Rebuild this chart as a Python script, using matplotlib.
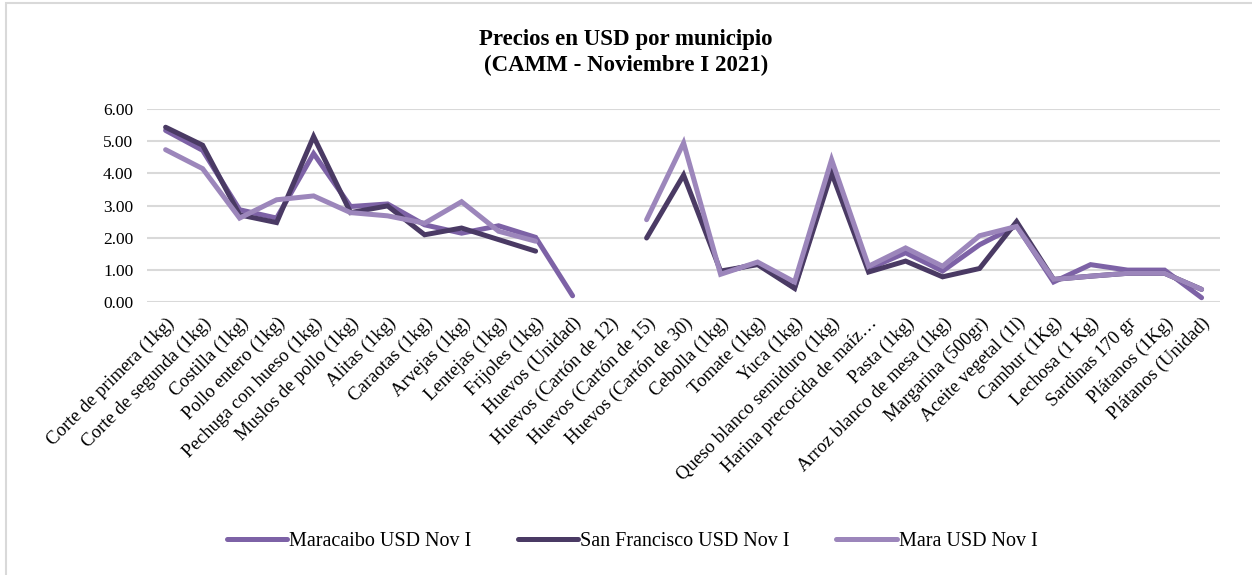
import numpy as np
import matplotlib
matplotlib.use('Agg')
import matplotlib.pyplot as plt
from matplotlib.patches import Rectangle

plt.rcParams['font.family'] = ['Liberation Serif', 'DejaVu Serif']

nan = np.nan

categorias = [
    'Corte de primera (1kg)', 'Corte de segunda (1kg)', 'Costilla (1kg)',
    'Pollo entero (1kg)', 'Pechuga con hueso (1kg)', 'Muslos de pollo (1kg)',
    'Alitas (1kg)', 'Caraotas (1kg)', 'Arvejas (1kg)', 'Lentejas (1kg)',
    'Frijoles (1kg)', 'Huevos (Unidad)', 'Huevos (Cartón de 12)',
    'Huevos (Cartón de 15)', 'Huevos (Cartón de 30)', 'Cebolla (1kg)',
    'Tomate (1kg)', 'Yuca (1kg)', 'Queso blanco semiduro (1kg)',
    'Harina precocida de maíz…', 'Pasta (1kg)', 'Arroz blanco de mesa (1kg)',
    'Margarina (500gr)', 'Aceite vegetal (1l)', 'Cambur (1Kg)',
    'Lechosa (1 Kg)', 'Sardinas 170 gr', 'Plátanos (1Kg)', 'Plátanos (Unidad)',
]

maracaibo = [5.34, 4.72, 2.87, 2.61, 4.62, 2.97, 3.05, 2.40, 2.14, 2.37,
             2.01, 0.19, nan, nan, nan, 0.91, 1.20, 0.44, 4.15, 1.03,
             1.53, 0.96, 1.78, 2.37, 0.62, 1.16, 0.99, 0.99, 0.13]
san_francisco = [5.44, 4.88, 2.71, 2.47, 5.15, 2.78, 2.99, 2.09, 2.30, 1.94,
                 1.58, nan, nan, 1.99, 3.95, 0.96, 1.16, 0.42, 4.02, 0.93,
                 1.27, 0.78, 1.04, 2.50, 0.70, 0.80, 0.89, 0.89, 0.39]
mara = [4.74, 4.15, 2.61, 3.18, 3.30, 2.78, 2.68, 2.45, 3.12, 2.20,
        1.89, nan, nan, 2.56, 4.95, 0.86, 1.24, 0.62, 4.43, 1.11,
        1.68, 1.11, 2.06, 2.35, 0.70, 0.80, 0.89, 0.89, 0.39]

series = [
    ('Maracaibo USD Nov I', maracaibo, '#7D62A6'),
    ('San Francisco USD Nov I', san_francisco, '#4A3A64'),
    ('Mara USD Nov I', mara, '#9C86BB'),
]
yticks = [0, 1, 2, 3, 4, 5, 6]

fig = plt.figure(figsize=(12.52, 5.75), dpi=100)
ax = fig.add_axes([0.1175, 0.475, 0.857, 0.335])

x = np.arange(len(categorias))
for nombre, vals, color in series:
    ax.plot(x, vals, color=color, lw=3.6, label=nombre,
            solid_capstyle='round', solid_joinstyle='miter', clip_on=False)

ax.set_xlim(-0.5, len(categorias) - 0.5)
ax.set_ylim(0, 6)
ax.set_yticks(yticks)
ax.set_yticklabels([f'{v:.2f}' for v in yticks], fontsize=12.5)
ax.set_xticks(x)
ax.set_xticklabels(categorias, rotation=45, ha='right',
                   rotation_mode='anchor', fontsize=13.5)
ax.tick_params(length=0, pad=9)
ax.tick_params(axis='y', pad=10)
ax.grid(axis='y', color='#D9D9D9', lw=1.5)
ax.set_axisbelow(True)
for s in ax.spines.values():
    s.set_visible(False)

fig.text(0.5, 0.95, 'Precios en USD por municipio\n(CAMM - Noviembre I 2021)',
         ha='center', va='top', fontsize=16.5, fontweight='bold',
         linespacing=1.3)

fig.legend(loc='center', bbox_to_anchor=(0.505, 0.058), ncol=3,
           frameon=False, fontsize=14.5, handlelength=3.0,
           handletextpad=0.1, columnspacing=2.3)

fig.patches.append(Rectangle((0.005, -0.1), 1.2, 1.095,
                             transform=fig.transFigure, fill=False,
                             edgecolor='#D9D9D9', lw=1.5))

fig.savefig('out.png', dpi=100)
